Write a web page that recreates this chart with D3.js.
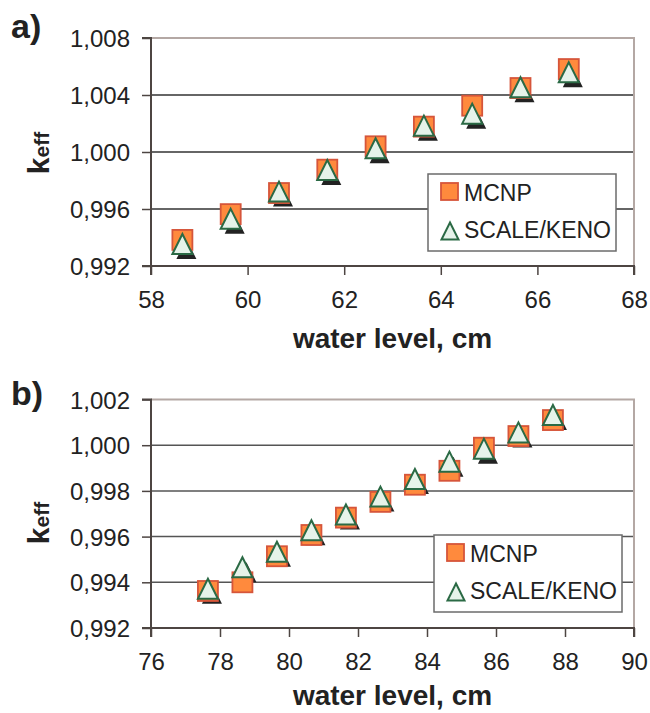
<!DOCTYPE html>
<html>
<head>
<meta charset="utf-8">
<script src="https://cdn.jsdelivr.net/npm/d3@7"></script>
<style>
html,body{margin:0;padding:0;background:#fff;}
svg{display:block;font-family:"Liberation Sans",Arial,Helvetica,sans-serif;}
</style>
</head>
<body>
<svg id="chart" width="650" height="713"></svg>
<script>
// ---- data ----
const seriesNames = ["MCNP", "SCALE/KENO"];

const topWater = [58.65, 59.65, 60.65, 61.65, 62.65, 63.65, 64.65, 65.65, 66.65];
const topMCNP  = [0.99383, 0.99564, 0.99712, 0.99876, 1.00040, 1.00178, 1.00325, 1.00449, 1.00582];
const topKENO  = [0.99354, 0.99531, 0.99722, 0.99874, 1.00026, 1.00185, 1.00269, 1.00454, 1.00559];
const topXTicks = [58, 60, 62, 64, 66, 68];
const topYTicks = [0.992, 0.996, 1.000, 1.004, 1.008];

const botWater = [77.65, 78.65, 79.65, 80.65, 81.65, 82.65, 83.65, 84.65, 85.65, 86.65, 87.65];
const botMCNP  = [0.99362, 0.99400, 0.99514, 0.99607, 0.99683, 0.99752, 0.99827, 0.99888, 0.99989, 1.00040, 1.00110];
const botKENO  = [0.99372, 0.99466, 0.99534, 0.99628, 0.99697, 0.99775, 0.99852, 0.99928, 0.99985, 1.00056, 1.00132];
const botXTicks = [76, 78, 80, 82, 84, 86, 88, 90];
const botYTicks = [0.992, 0.994, 0.996, 0.998, 1.000, 1.002];

const xTitle = "water level, cm";

// ---- drawing ----
const svg = d3.select("#chart");
const FONT = '"Liberation Sans",Arial,Helvetica,sans-serif';
const fmtY = v => d3.format(".3f")(v).replace(".", ",");

const SQ = 20, TRI = 20;
const triPath = s => `M0,${-s/2}L${s/2},${s/2}L${-s/2},${s/2}Z`;

function drawPanel(cfg) {
  const x = d3.scaleLinear().domain(cfg.xDomain).range([cfg.left, cfg.right]);
  const y = d3.scaleLinear().domain(cfg.yDomain).range([cfg.bottom, cfg.top]);
  const g = svg.append("g");

  // gridlines (interior)
  g.selectAll(".grid").data(cfg.yTicks.slice(1, -1)).enter().append("line")
    .attr("x1", cfg.left).attr("x2", cfg.right)
    .attr("y1", d => y(d)).attr("y2", d => y(d))
    .attr("stroke", cfg.gridColor).attr("stroke-width", 1.5);

  // top and right border
  g.append("path")
    .attr("d", `M${cfg.left},${y(cfg.yDomain[1])}H${cfg.right}V${y(cfg.yDomain[0])}`)
    .attr("fill", "none").attr("stroke", "#b4a8a4").attr("stroke-width", 2);

  // axes
  const xAxis = d3.axisBottom(x).tickValues(cfg.xTicks).tickSize(9).tickPadding(10)
    .tickFormat(d3.format("d"));
  const yAxis = d3.axisLeft(y).tickValues(cfg.yTicks).tickSize(9).tickPadding(12)
    .tickFormat(fmtY);

  const gx = g.append("g").attr("transform", `translate(0,${cfg.bottom})`).call(xAxis);
  const gy = g.append("g").attr("transform", `translate(${cfg.left},0)`).call(yAxis);
  [gx, gy].forEach(a => {
    a.select(".domain").attr("stroke", "#4d4542").attr("stroke-width", 2);
    a.selectAll(".tick line").attr("stroke", "#4d4542").attr("stroke-width", 1.5);
    a.selectAll("text").attr("font-family", FONT).attr("font-size", 24).attr("fill", "#222");
  });
  gx.select(".domain").attr("d", `M${cfg.left},9V0H${cfg.right}V9`);
  gy.select(".domain").attr("d", `M-9,${cfg.top}H0V${cfg.bottom}H-9`);
  gx.selectAll("text").attr("dy", "0.95em");
  gy.selectAll("text").attr("dy", "0.36em");

  // markers
  const pts = cfg.water.map((w, i) => ({w, m: cfg.mcnp[i], k: cfg.keno[i]}));
  g.selectAll(".shadow").data(pts).enter().append("path")
    .attr("d", triPath(TRI))
    .attr("transform", d => `translate(${x(d.w) + 4},${y(d.k) + 5})`)
    .attr("fill", "#222");
  g.selectAll(".sq").data(pts).enter().append("rect")
    .attr("x", d => x(d.w) - SQ/2).attr("y", d => y(d.m) - SQ/2)
    .attr("width", SQ).attr("height", SQ)
    .attr("fill", "#ff8a3d").attr("stroke", "#d6553a").attr("stroke-width", 1.8);
  g.selectAll(".tri").data(pts).enter().append("path")
    .attr("d", triPath(TRI))
    .attr("transform", d => `translate(${x(d.w)},${y(d.k)})`)
    .attr("fill", "#e6f3ea").attr("stroke", "#2b6a45").attr("stroke-width", 2)
    .attr("stroke-linejoin", "miter");

  // legend
  const L = cfg.legend;
  const lg = g.append("g").attr("transform", `translate(${L.x},${L.y})`);
  lg.append("rect").attr("width", L.w).attr("height", L.h)
    .attr("fill", "#fff").attr("stroke", "#6b6b6b").attr("stroke-width", 1.5);
  lg.append("rect").attr("x", 13).attr("y", 9).attr("width", 17).attr("height", 17)
    .attr("fill", "#ff8a3d").attr("stroke", "#d6553a").attr("stroke-width", 1.8);
  lg.append("path").attr("d", triPath(17)).attr("transform", "translate(22,57)")
    .attr("fill", "#e6f3ea").attr("stroke", "#2b6a45").attr("stroke-width", 2);
  lg.selectAll(".lt").data(seriesNames).enter().append("text")
    .attr("x", 36).attr("y", (d, i) => i === 0 ? 27 : 64)
    .attr("font-family", FONT).attr("font-size", 23).attr("fill", "#222")
    .text(d => d);

  // panel letter
  svg.append("text").attr("x", 11).attr("y", cfg.letterY)
    .attr("font-family", FONT).attr("font-size", 34).attr("font-weight", "bold")
    .attr("fill", "#222").text(cfg.letter);

  // y title k_eff
  const yt = svg.append("text")
    .attr("transform", `translate(49,${cfg.yTitleY}) rotate(-90)`)
    .attr("text-anchor", "middle")
    .attr("font-family", FONT).attr("font-weight", "bold").attr("fill", "#222");
  yt.append("tspan").attr("font-size", 30).text("k");
  yt.append("tspan").attr("font-size", 21).text("eff");

  // x title
  svg.append("text").attr("x", (cfg.left + cfg.right) / 2).attr("y", cfg.titleY)
    .attr("text-anchor", "middle")
    .attr("font-family", FONT).attr("font-size", 28).attr("font-weight", "bold")
    .attr("fill", "#222").text(xTitle);
}

drawPanel({
  left: 151, right: 634, top: 38, bottom: 266,
  xDomain: [58, 68], yDomain: [0.992, 1.008],
  xTicks: topXTicks, yTicks: topYTicks,
  water: topWater, mcnp: topMCNP, keno: topKENO,
  gridColor: "#333",
  legend: {x: 428, y: 174, w: 188, h: 77},
  letter: "a)", letterY: 38, yTitleY: 153, titleY: 348
});

drawPanel({
  left: 151, right: 634, top: 399.5, bottom: 628,
  xDomain: [76, 90], yDomain: [0.992, 1.002],
  xTicks: botXTicks, yTicks: botYTicks,
  water: botWater, mcnp: botMCNP, keno: botKENO,
  gridColor: "#555",
  legend: {x: 434, y: 535, w: 188, h: 77},
  letter: "b)", letterY: 405, yTitleY: 523, titleY: 705
});
</script>
</body>
</html>
